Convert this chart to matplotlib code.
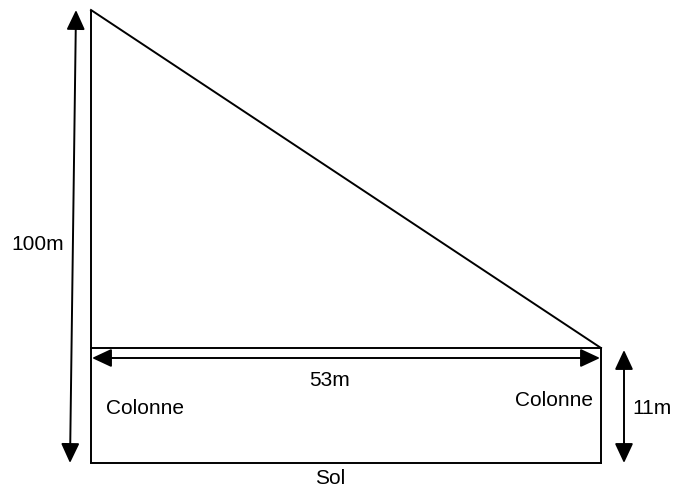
import matplotlib
matplotlib.use("Agg")
import matplotlib.pyplot as plt

# Labels / values
dimension_labels = ["100m", "53m", "11m"]
column_labels = ["Colonne", "Colonne"]
ground_label = "Sol"

# Geometry (pixel coordinates of the diagram)
left_x, right_x = 91, 601
top_y, mid_y, bottom_y = 10, 348, 463

plt.rcParams['font.family'] = ['Liberation Sans', 'DejaVu Sans']
fig = plt.figure(figsize=(6.75, 4.95), dpi=100)
ax = fig.add_axes([0, 0, 1, 1])
ax.set_xlim(0, 675)
ax.set_ylim(495, 0)
ax.axis('off')

lw = 1.4
# triangle
ax.plot([left_x, left_x], [top_y, bottom_y], color='black', lw=lw, solid_capstyle='butt')
ax.plot([left_x, right_x], [top_y, mid_y], color='black', lw=lw)
ax.plot([left_x, right_x], [mid_y, mid_y], color='black', lw=lw)
ax.plot([right_x, right_x], [mid_y, bottom_y], color='black', lw=lw)
ax.plot([left_x, right_x], [bottom_y, bottom_y], color='black', lw=lw)

aprops = dict(arrowstyle='<|-|>,head_length=0.6,head_width=0.28', lw=lw,
              color='black', shrinkA=0, shrinkB=0, mutation_scale=20)
# vertical 100m arrow (slightly slanted)
ax.annotate('', xy=(76, 10), xytext=(70, 463), arrowprops=aprops)
# horizontal 53m arrow
ax.annotate('', xy=(92, 358), xytext=(600, 358), arrowprops=aprops)
# 11m arrow
ax.annotate('', xy=(624, 350), xytext=(624, 463), arrowprops=aprops)

fs = 15
ax.text(11, 244, dimension_labels[0], fontsize=fs, ha='left', va='center')
ax.text(330, 381, dimension_labels[1], fontsize=fs, ha='center', va='center')
ax.text(632, 408, dimension_labels[2], fontsize=fs, ha='left', va='center')
ax.text(106, 408, column_labels[0], fontsize=fs, ha='left', va='center')
ax.text(515, 401, column_labels[1], fontsize=fs, ha='left', va='center')
ax.text(330, 479, ground_label, fontsize=fs, ha='center', va='center')

fig.savefig('out.png', dpi=100)
